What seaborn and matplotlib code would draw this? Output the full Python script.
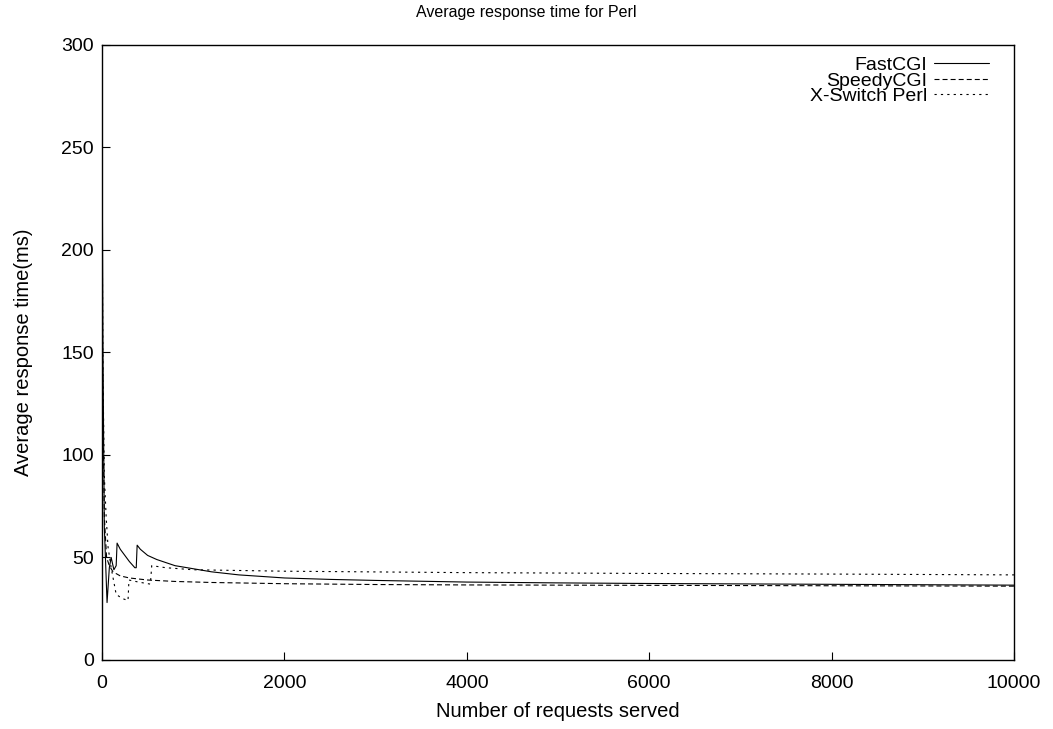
import pandas as pd
import matplotlib
matplotlib.use("Agg")
import matplotlib.pyplot as plt
import seaborn as sns

# requests served vs average response time (ms)
fast_x = [0, 10, 25, 55, 80, 100, 130, 155, 165, 200, 250, 300, 360, 375, 385,
          420, 500, 600, 700, 800, 1000, 1200, 1500, 2000, 2500, 3000, 4000,
          5000, 6000, 7000, 8000, 9000, 10000]
fast_y = [267, 150, 65, 28, 45, 50, 44, 46, 57, 54, 51, 48, 45, 45, 56,
          54, 51, 49, 47.5, 46, 44.5, 43, 41.5, 40, 39.3, 38.8, 38,
          37.6, 37.3, 37.1, 36.9, 36.7, 36.5]

speedy_x = [0, 10, 25, 50, 80, 120, 200, 300, 500, 800, 1200, 2000, 3000,
            4000, 6000, 8000, 10000]
speedy_y = [190, 120, 70, 50, 46, 43, 41, 40, 39, 38.3, 37.8, 37.2, 36.8,
            36.6, 36.4, 36.2, 36.0]

xswitch_x = [0, 10, 25, 45, 66, 100, 155, 220, 285, 295, 400, 530, 545, 700,
             1000, 2000, 4000, 6000, 8000, 10000]
xswitch_y = [230, 140, 90, 70, 55, 45, 32, 30, 29, 39, 38, 37, 46, 45,
             44, 43.3, 42.6, 42.2, 41.9, 41.5]

sns.set_style("white")
plt.rcParams["font.family"] = ["Liberation Sans", "DejaVu Sans"]
plt.rcParams["lines.scale_dashes"] = False
plt.rcParams["text.color"] = "black"
plt.rcParams["axes.labelcolor"] = "black"
plt.rcParams["xtick.color"] = "black"
plt.rcParams["ytick.color"] = "black"

fig = plt.figure(figsize=(10.53, 7.29), dpi=100)
ax = fig.add_axes([0.0969, 0.0947, 0.8661, 0.8436])

series = [
    ("FastCGI", fast_x, fast_y, "-"),
    ("SpeedyCGI", speedy_x, speedy_y, (0, (3.6, 2.2))),
    ("X-Switch Perl", xswitch_x, xswitch_y, (0, (1.6, 3.0))),
]
for name, xs, ys, ls in series:
    df = pd.DataFrame({"x": xs, "y": ys})
    sns.lineplot(data=df, x="x", y="y", ax=ax, color="black", linewidth=0.8,
                 linestyle=ls, label=name, estimator=None, sort=False)

ax.set_xlim(0, 10000)
ax.set_ylim(0, 300)
ax.set_xticks([0, 2000, 4000, 6000, 8000, 10000])
ax.set_yticks([0, 50, 100, 150, 200, 250, 300])
ax.tick_params(direction="in", length=5.5, width=0.8, labelsize=14,
               left=True, bottom=True, top=False, right=False)
ax.tick_params(axis="x", pad=11)
ax.tick_params(axis="y", pad=6)
for s in ax.spines.values():
    s.set_linewidth(1.0)
    s.set_color("black")

# gnuplot centres the title on the whole canvas
fig.text(0.5, 1 - 13 / 729, "Average response time for Perl", fontsize=11.5,
         ha="center", va="center")
ax.set_xlabel("Number of requests served", fontsize=14.5, labelpad=7)
ax.set_ylabel("Average response time(ms)", fontsize=14.5, labelpad=20)

ax.legend(loc="upper right", frameon=False, markerfirst=False, fontsize=14,
          handlelength=2.8, handletextpad=0.35, labelspacing=-0.12,
          borderaxespad=0.2, alignment="right", bbox_to_anchor=(0.985, 1.0))

fig.savefig("out.png", dpi=100)
